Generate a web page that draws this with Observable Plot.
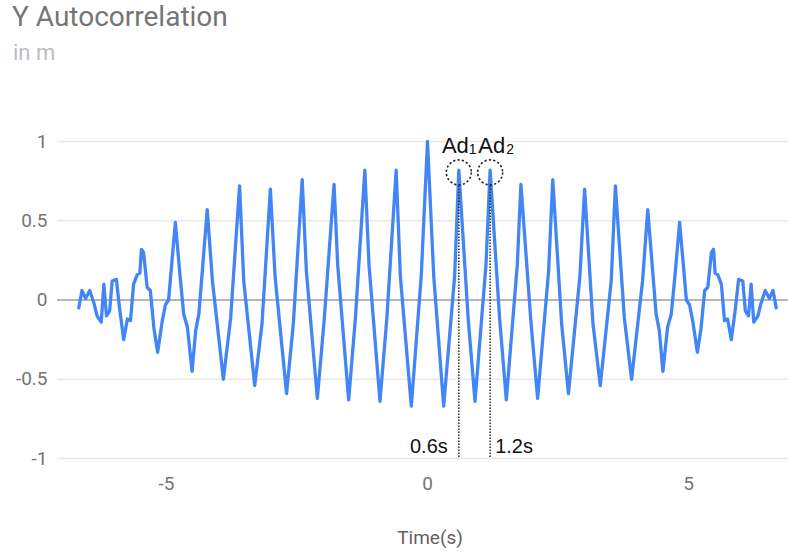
<!DOCTYPE html>
<html><head><meta charset="utf-8">
<script src="https://cdn.jsdelivr.net/npm/d3@7"></script>
<script src="https://cdn.jsdelivr.net/npm/@observablehq/plot@0.6"></script>
<style>
html,body{margin:0;padding:0;background:#fff;}
body{width:788px;height:554px;overflow:hidden;font-family:Roboto,sans-serif;}
#header{position:relative;height:80px;}
#title{position:absolute;left:12px;top:0px;font-size:28px;line-height:normal;color:#757575;white-space:nowrap;}
#subtitle{position:absolute;left:13px;top:40px;font-size:22px;line-height:1.2;color:#bdbdbd;white-space:nowrap;}
#chart svg{display:block;}
</style></head><body>
<div id="header"><div id="title">Y Autocorrelation</div><div id="subtitle">in m</div></div>
<div id="chart"></div>
<script>
// Lag (s) and autocorrelation values
const lags = [
 -6.68,-6.62,-6.55,-6.47,-6.39,-6.33,-6.25,-6.20,-6.15,-6.09,-6.04,-5.96,-5.90,-5.82,-5.75,-5.69,
 -5.63,-5.56,-5.51,-5.48,-5.44,-5.37,-5.31,-5.24,-5.17,-5.08,-5.02,-4.96,-4.83,-4.74,-4.67,-4.60,
 -4.51,-4.44,-4.38,-4.22,-4.12,-3.91,-3.77,-3.60,-3.52,-3.31,-3.17,-3.01,-2.92,-2.70,-2.57,-2.40,
 -2.32,-2.11,-1.98,-1.79,-1.72,-1.51,-1.38,-1.20,-1.12,-0.91,-0.78,-0.60,-0.52,-0.31,-0.12,0,
 0.12,0.31,0.52,0.60,0.78,0.91,1.12,1.20,1.38,1.51,1.72,1.79,1.98,2.11,2.32,2.40,
 2.57,2.70,2.92,3.01,3.17,3.31,3.52,3.60,3.77,3.91,4.12,4.22,4.38,4.44,4.51,4.60,
 4.67,4.74,4.83,4.96,5.02,5.08,5.17,5.24,5.31,5.37,5.44,5.48,5.51,5.56,5.63,5.69,
 5.75,5.82,5.90,5.96,6.04,6.09,6.15,6.20,6.25,6.33,6.39,6.47,6.55,6.62,6.68
];
const acf = [
 -0.05,0.06,0.01,0.06,-0.02,-0.10,-0.14,0.10,-0.10,-0.07,0.12,0.13,-0.05,-0.25,-0.12,-0.13,
 0.10,0.16,0.17,0.32,0.30,0.08,0.06,-0.18,-0.33,-0.13,-0.03,0.00,0.49,0.15,-0.09,-0.17,
 -0.45,-0.19,-0.09,0.57,0.12,-0.50,-0.11,0.72,0.12,-0.54,-0.15,0.70,0.15,-0.59,-0.15,0.76,
 0.18,-0.62,-0.13,0.73,0.22,-0.63,-0.11,0.82,0.22,-0.64,-0.12,0.82,0.15,-0.67,0.15,1.00,
 0.15,-0.67,0.15,0.82,-0.12,-0.64,0.22,0.82,-0.11,-0.63,0.22,0.73,-0.13,-0.62,0.18,0.76,
 -0.15,-0.59,0.15,0.70,-0.15,-0.54,0.12,0.72,-0.11,-0.50,0.12,0.57,-0.09,-0.19,-0.45,-0.17,
 -0.09,0.15,0.49,0.00,-0.03,-0.13,-0.33,-0.18,0.06,0.08,0.30,0.32,0.17,0.16,0.10,-0.13,
 -0.12,-0.25,-0.05,0.13,0.12,-0.07,-0.10,0.10,-0.14,-0.10,-0.02,0.06,0.01,0.06,-0.05
];
const xTicks = [-5, 0, 5];
const yTicks = [-1, -0.5, 0, 0.5, 1];
// Annotated peaks
const peakLags = [0.6, 1.2];
const peakValues = [0.805, 0.805];
const dropTop = [0.72, 0.72];
const peakNames = ["Ad", "Ad"];
const peakSubs = ["1", "2"];
const lagLabels = ["0.6s", "1.2s"];
const axisTitle = ["Time(s)"];

const series = lags.map((t, i) => ({t, v: acf[i]}));
const peaks = peakLags.map((t, i) => ({t, v: peakValues[i], top: dropTop[i], name: peakNames[i], sub: peakSubs[i], label: lagLabels[i]}));

const fmt = d => String(d);
const labelFont = "Liberation Sans, Arial, sans-serif";

const chart = Plot.plot({
  width: 788, height: 474,
  marginLeft: 57, marginRight: 0, marginTop: 61, marginBottom: 96,
  style: {fontFamily: "Roboto, sans-serif", fontSize: "19px", color: "#757575", background: "#fff", overflow: "visible"},
  x: {domain: [-7.088, 6.916], ticks: xTicks, tickFormat: fmt, tickSize: 0, tickPadding: 18, label: null},
  y: {domain: [-1, 1], ticks: yTicks, tickFormat: fmt, tickSize: 0, tickPadding: 10, label: null},
  marks: [
    Plot.ruleY(yTicks.filter(d => d !== 0), {stroke: "#e8e8e8", strokeWidth: 1.3}),
    Plot.ruleY([0], {stroke: "#9e9e9e", strokeWidth: 1.3}),
    Plot.line(series, {x: "t", y: "v", stroke: "#4285f4", strokeWidth: 3.3, strokeLinejoin: "round", strokeLinecap: "round"}),
    Plot.ruleX(peaks, {x: "t", y1: "top", y2: () => -1, stroke: "#333", strokeWidth: 1.6, strokeDasharray: "1.5,1.5"}),
    Plot.dot(peaks, {x: "t", y: "v", r: 12.5, fill: "none", stroke: "#222", strokeWidth: 1.6, strokeDasharray: "2.2,2.2"}),
    Plot.text(peaks, {filter: (d, i) => i === 0, x: "t", y: "v", text: "name", textAnchor: "end", lineAnchor: "bottom", dx: 10, dy: -19, fontSize: 22, fontFamily: labelFont, fill: "#111"}),
    Plot.text(peaks, {filter: (d, i) => i === 0, x: "t", y: "v", text: "sub", textAnchor: "start", lineAnchor: "bottom", dx: 10, dy: -18, fontSize: 14, fontFamily: labelFont, fill: "#111"}),
    Plot.text(peaks, {filter: (d, i) => i === 1, x: "t", y: "v", text: "name", textAnchor: "end", lineAnchor: "bottom", dx: 15, dy: -19, fontSize: 22, fontFamily: labelFont, fill: "#111"}),
    Plot.text(peaks, {filter: (d, i) => i === 1, x: "t", y: "v", text: "sub", textAnchor: "start", lineAnchor: "bottom", dx: 16, dy: -18, fontSize: 14, fontFamily: labelFont, fill: "#111"}),
    Plot.text(peaks, {filter: (d, i) => i === 0, x: "t", frameAnchor: "bottom", text: "label", textAnchor: "end", lineAnchor: "bottom", dx: -11, dy: -6, fontSize: 20, fontFamily: labelFont, fill: "#111"}),
    Plot.text(peaks, {filter: (d, i) => i === 1, x: "t", frameAnchor: "bottom", text: "label", textAnchor: "start", lineAnchor: "bottom", dx: 5, dy: -6, fontSize: 20, fontFamily: labelFont, fill: "#111"}),
    Plot.text(axisTitle, {frameAnchor: "bottom", text: d => d, lineAnchor: "middle", dx: 7, dy: 79, fontSize: 19, fill: "#616161"})
  ]
});
document.getElementById("chart").appendChild(chart);
</script></body></html>
